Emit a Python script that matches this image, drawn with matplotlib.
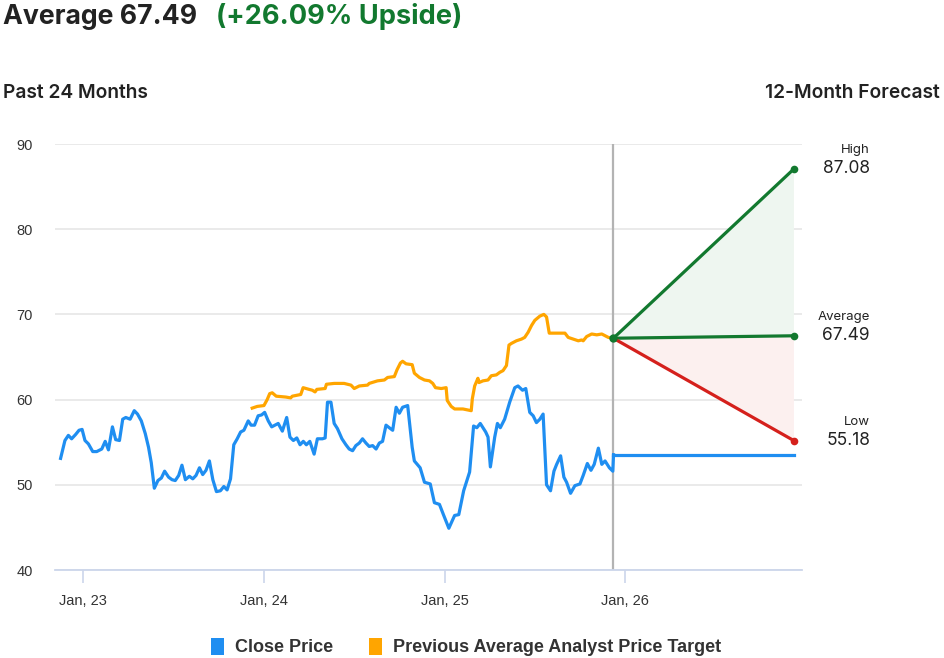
import matplotlib
matplotlib.use("Agg")
import matplotlib.pyplot as plt
from matplotlib.patches import Patch

# ---------------- data ----------------
close_t = [2022.874, 2022.898, 2022.917, 2022.935, 2022.957, 2022.976, 2022.993, 2023.009, 2023.028, 2023.052,
           2023.074, 2023.102, 2023.121, 2023.139, 2023.161, 2023.179, 2023.200, 2023.218, 2023.235, 2023.259,
           2023.282, 2023.300, 2023.321, 2023.343, 2023.361, 2023.376, 2023.393, 2023.413, 2023.432, 2023.450,
           2023.472, 2023.491, 2023.509, 2023.528, 2023.546, 2023.565, 2023.587, 2023.606, 2023.624, 2023.643,
           2023.661, 2023.679, 2023.698, 2023.717, 2023.737, 2023.759, 2023.778, 2023.796, 2023.815, 2023.833,
           2023.852, 2023.871, 2023.889, 2023.913, 2023.929, 2023.948, 2023.968, 2023.987, 2024.004, 2024.024,
           2024.043, 2024.061, 2024.079, 2024.102, 2024.126, 2024.144, 2024.163, 2024.182, 2024.200, 2024.218,
           2024.235, 2024.254, 2024.278, 2024.296, 2024.324, 2024.339, 2024.352, 2024.371, 2024.389, 2024.407,
           2024.432, 2024.454, 2024.472, 2024.491, 2024.509, 2024.528, 2024.546, 2024.565, 2024.583, 2024.602,
           2024.621, 2024.639, 2024.657, 2024.676, 2024.694, 2024.713, 2024.732, 2024.750, 2024.768, 2024.796,
           2024.821, 2024.833, 2024.865, 2024.889, 2024.921, 2024.944, 2024.972, 2024.994, 2025.024, 2025.056,
           2025.079, 2025.106, 2025.139, 2025.161, 2025.179, 2025.198, 2025.228, 2025.241, 2025.254, 2025.278,
           2025.293, 2025.309, 2025.333, 2025.361, 2025.389, 2025.407, 2025.432, 2025.450, 2025.472, 2025.491,
           2025.509, 2025.528, 2025.546, 2025.565, 2025.587, 2025.606, 2025.621, 2025.643, 2025.661, 2025.676,
           2025.698, 2025.722, 2025.750, 2025.768, 2025.791, 2025.811, 2025.829, 2025.852, 2025.871, 2025.889,
           2025.913, 2025.932, 2025.936]
close_price = [53.1, 55.2, 55.8, 55.4, 55.9, 56.4, 56.5, 55.2, 54.8, 53.9,
               53.9, 54.2, 55.1, 54.1, 56.8, 55.3, 55.2, 57.7, 57.9, 57.7,
               58.7, 58.3, 57.5, 56.0, 54.4, 52.6, 49.6, 50.5, 50.8, 51.6,
               50.9, 50.6, 50.5, 51.1, 52.3, 50.6, 51.0, 50.7, 51.1, 52.0,
               51.2, 51.7, 52.8, 50.6, 49.2, 49.3, 49.8, 49.4, 50.7, 54.7,
               55.4, 56.2, 56.4, 57.5, 57.0, 57.0, 58.1, 58.2, 58.5, 57.5,
               56.8, 57.0, 57.2, 56.3, 57.9, 55.6, 55.2, 55.5, 54.7, 55.1,
               54.7, 55.1, 53.6, 55.4, 55.4, 55.5, 59.7, 59.7, 57.2, 56.6,
               55.4, 54.7, 54.2, 54.0, 54.6, 54.9, 55.4, 54.9, 54.5, 54.6,
               54.2, 54.9, 55.1, 57.0, 56.7, 56.4, 59.1, 58.4, 59.1, 59.3,
               54.4, 52.8, 52.0, 50.3, 50.1, 47.9, 47.7, 46.5, 44.9, 46.4,
               46.5, 49.3, 51.5, 56.9, 56.7, 57.2, 56.2, 55.6, 52.1, 55.6,
               57.2, 56.7, 57.7, 59.7, 61.4, 61.6, 61.1, 61.3, 58.5, 58.1,
               57.3, 57.7, 58.3, 50.0, 49.3, 51.6, 52.4, 53.4, 50.9, 50.3,
               49.0, 49.9, 50.1, 51.1, 52.5, 51.7, 52.4, 54.3, 52.4, 52.8,
               52.0, 51.6, 53.53]

target_t = [2023.935, 2023.963, 2024.000, 2024.018, 2024.032, 2024.046, 2024.068, 2024.121, 2024.148, 2024.157,
            2024.204, 2024.217, 2024.250, 2024.268, 2024.283, 2024.293, 2024.339, 2024.346, 2024.389, 2024.444,
            2024.482, 2024.500, 2024.528, 2024.574, 2024.583, 2024.629, 2024.667, 2024.685, 2024.722, 2024.737,
            2024.756, 2024.768, 2024.787, 2024.821, 2024.833, 2024.861, 2024.889, 2024.917, 2024.935, 2024.950,
            2024.982, 2025.009, 2025.015, 2025.037, 2025.056, 2025.102, 2025.148, 2025.154, 2025.167, 2025.185,
            2025.191, 2025.213, 2025.241, 2025.259, 2025.287, 2025.306, 2025.324, 2025.343, 2025.357, 2025.371,
            2025.398, 2025.426, 2025.444, 2025.463, 2025.482, 2025.500, 2025.528, 2025.550, 2025.565, 2025.580,
            2025.621, 2025.667, 2025.685, 2025.713, 2025.741, 2025.759, 2025.768, 2025.787, 2025.815, 2025.843,
            2025.871, 2025.889, 2025.907, 2025.935]
target_price = [59.0, 59.2, 59.3, 60.0, 60.7, 60.8, 60.4, 60.3, 60.2, 60.4,
                60.6, 61.4, 61.2, 61.1, 60.9, 61.2, 61.3, 61.8, 61.9, 61.9,
                61.7, 61.3, 61.6, 61.7, 61.9, 62.2, 62.3, 62.6, 62.7, 63.5,
                64.3, 64.5, 64.2, 64.1, 63.1, 62.6, 62.3, 62.2, 61.9, 61.4,
                61.3, 61.4, 59.9, 59.2, 58.9, 58.9, 58.7, 60.1, 61.6, 62.5,
                62.0, 62.2, 62.3, 62.8, 62.9, 63.2, 63.4, 64.0, 66.4, 66.6,
                66.9, 67.1, 67.3, 67.9, 68.7, 69.3, 69.8, 70.0, 69.7, 67.8,
                67.8, 67.8, 67.3, 67.1, 66.9, 67.0, 66.9, 67.4, 67.7, 67.6,
                67.7, 67.5, 67.3, 67.2]

current_price = 53.53
forecast_start_t = 2025.935
forecast_end_t = 2026.935
forecast_start_value = 67.2
forecast_names = ["High", "Average", "Low"]
forecast_values = [87.08, 67.49, 55.18]
upside_pct = 26.09

tick_years = [2023, 2024, 2025, 2026]
tick_labels = ["Jan, 23", "Jan, 24", "Jan, 25", "Jan, 26"]
y_ticks = [40, 50, 60, 70, 80, 90]

# ---------------- style ----------------
BLUE = "#1f8ef1"
ORANGE = "#ffa500"
GREEN = "#12792f"
RED = "#d5201c"
GRID = "#e6e6e6"
AXIS = "#ccd6eb"
TXT = "#333333"
LW = 2.3

plt.rcParams["font.family"] = ["Liberation Sans", "DejaVu Sans"]

W, H = 945, 658
fig = plt.figure(figsize=(W / 100, H / 100), dpi=100)
ax = fig.add_axes([55 / W, 1 - 570 / H, (801.7 - 55) / W, (570 - 144) / H])

ax.set_xlim(2022.843, 2026.978)
ax.set_ylim(40, 90)

# grid
ax.set_yticks(y_ticks)
ax.yaxis.grid(True, color=GRID, linewidth=1.2)
ax.set_axisbelow(True)
for s in ["top", "right", "left"]:
    ax.spines[s].set_visible(False)
ax.spines["bottom"].set_color(AXIS)
ax.spines["bottom"].set_linewidth(1.3)
ax.tick_params(axis="y", length=0, pad=16, labelsize=10.5, labelcolor=TXT)
ax.set_xticks(tick_years)
ax.set_xticklabels(tick_labels)
ax.tick_params(axis="x", length=9, width=1.2, color=AXIS, pad=8, labelsize=10.5, labelcolor=TXT)

# fills
ax.fill([forecast_start_t, forecast_end_t, forecast_end_t],
        [forecast_start_value, forecast_values[0], forecast_values[1]],
        color="#eef6f0", zorder=1, linewidth=0)
ax.fill([forecast_start_t, forecast_end_t, forecast_end_t],
        [forecast_start_value, forecast_values[1], forecast_values[2]],
        color="#fcf0ef", zorder=1, linewidth=0)

# vertical separator
ax.axvline(forecast_start_t, color="#b3b3b3", linewidth=1.6, zorder=2)

# series
ax.plot(close_t, close_price, color=BLUE, linewidth=LW, zorder=4, solid_joinstyle="round")
ax.plot([forecast_start_t, forecast_end_t], [current_price, current_price], color=BLUE, linewidth=LW, zorder=4)
ax.plot(target_t, target_price, color=ORANGE, linewidth=LW, zorder=4, solid_joinstyle="round")

# forecast lines
colors = [GREEN, GREEN, RED]
for v, c in zip(forecast_values, colors):
    ax.plot([forecast_start_t, forecast_end_t], [forecast_start_value, v], color=c, linewidth=LW, zorder=5)
    ax.plot([forecast_end_t], [v], marker="o", markersize=5.5, color=c, zorder=6, markeredgewidth=0)
ax.plot([forecast_start_t], [forecast_start_value], marker="o", markersize=6, color=GREEN, zorder=6, markeredgewidth=0)

# forecast labels (right side)
for name, v in zip(forecast_names, forecast_values):
    xy_disp = ax.transData.transform((forecast_end_t, v))
    y_fig = xy_disp[1] / H
    fig.text(870 / W, y_fig, f"{v:.2f}", ha="right", va="center", fontsize=12.5,
             color="#222222", family=["Inter", "DejaVu Sans"])
    fig.text(870 / W, y_fig + 19 / H, name, ha="right", va="center", fontsize=9.5,
             color="#222222", family=["Inter", "DejaVu Sans"])

# titles
t1 = fig.text(3 / W, 1 - 17 / H, "Average 67.49", ha="left", va="center", fontsize=19.2,
              fontweight="bold", color="#222222", family=["Inter", "DejaVu Sans"])
fig.canvas.draw()
bb = t1.get_window_extent()
fig.text((bb.x1 + 19) / W, 1 - 17 / H, f"(+{upside_pct:.2f}% Upside)", ha="left", va="center",
         fontsize=19.6, fontweight="bold", color=GREEN, family=["Inter", "DejaVu Sans"])
fig.text(3 / W, 1 - 93 / H, "Past 24 Months", ha="left", va="center", fontsize=13.8,
         fontweight="semibold", color="#222222", family=["Inter", "DejaVu Sans"])
fig.text(940 / W, 1 - 93 / H, "12-Month Forecast", ha="right", va="center", fontsize=13.8,
         fontweight="semibold", color="#222222", family=["Inter", "DejaVu Sans"])

# legend
handles = [Patch(facecolor=BLUE, edgecolor="none"), Patch(facecolor=ORANGE, edgecolor="none")]
leg = fig.legend(handles, ["Close Price", "Previous Average Analyst Price Target"],
                 loc="center", bbox_to_anchor=(466 / W, 1 - 647 / H), ncol=2, frameon=False,
                 handlelength=0.7, handleheight=1.1, handletextpad=0.6, columnspacing=2.0,
                 prop={"size": 13, "weight": "bold", "family": ["Liberation Sans", "DejaVu Sans"]})
for t in leg.get_texts():
    t.set_color(TXT)

fig.savefig("out.png", dpi=100)
